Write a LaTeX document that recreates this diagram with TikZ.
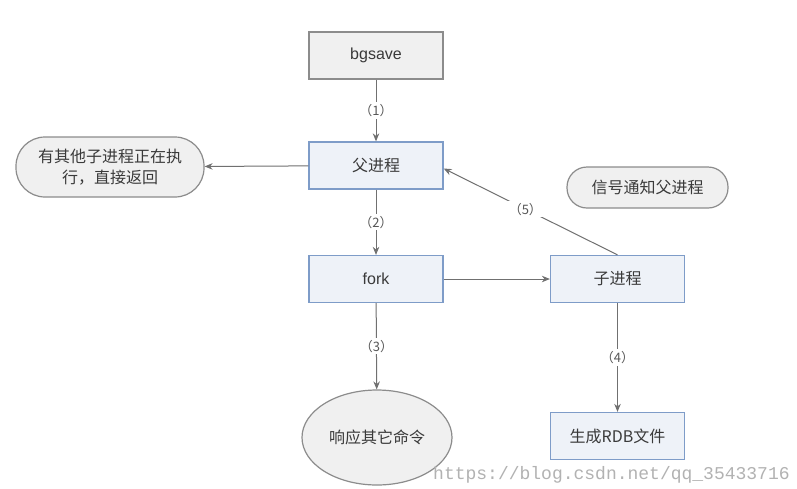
\documentclass[tikz,border=0pt]{standalone}
\usepackage{fontspec}
\setmainfont{Liberation Sans}
\newfontfamily\cjk{Noto Sans CJK SC}
\newfontfamily\wmfont{Liberation Mono}
\usetikzlibrary{arrows.meta,shapes.geometric}
\definecolor{boxblue}{HTML}{7E9CC8}
\definecolor{bluefill}{HTML}{EEF2F8}
\definecolor{graybd}{HTML}{8C8C8C}
\definecolor{grayfill}{HTML}{F0F0F0}
\definecolor{txt}{HTML}{3A3A3A}
\definecolor{arrowc}{HTML}{707070}
\tikzset{
  bluebox/.style={rectangle, draw=boxblue, line width=1.3pt, fill=bluefill,
    minimum width=134pt, minimum height=47pt, inner sep=0pt, text=txt, font=\cjk\fontsize{16}{19}\selectfont},
  graybox/.style={rectangle, draw=graybd, line width=1.3pt, fill=grayfill,
    minimum width=134pt, minimum height=47pt, inner sep=0pt, text=txt, font=\fontsize{16}{19}\selectfont},
  pill/.style={rectangle, draw=graybd, line width=1.2pt, fill=grayfill,
    inner sep=0pt, text=txt, align=center, font=\cjk\fontsize{16}{21}\selectfont},
  oval/.style={ellipse, draw=graybd, line width=1.2pt, fill=grayfill,
    minimum width=150pt, minimum height=95pt, inner sep=0pt, text=txt, font=\cjk\fontsize{16}{19}\selectfont},
  arr/.style={draw=arrowc, line width=1pt, -{Stealth[length=8pt,width=6.5pt]}},
  lbl/.style={fill=white, inner sep=2pt, text=txt!85, font=\cjk\fontsize{13}{15}\selectfont},
}
\begin{document}
\begin{tikzpicture}[x=1pt,y=-1pt]
\useasboundingbox (0,0) rectangle (797,488);
\fill[white] (0,0) rectangle (797,488);

\node[graybox] (bg) at (376,55.5) {bgsave};
\node[bluebox] (fu) at (376,165.5) {父进程};
\node[bluebox] (fork) at (376,279) {\fontspec{Liberation Sans}fork};
\node[bluebox] (zi) at (617.5,279) {子进程};
\node[bluebox] (rdb) at (617.5,436) {生成RDB文件};
\node[oval] (resp) at (377,437.5) {响应其它命令};
\node[pill, minimum width=188pt, minimum height=60pt, rounded corners=29pt] (other) at (110,167) {有其他子进程正在执\\行，直接返回};
\node[pill, minimum width=161pt, minimum height=41pt, rounded corners=20pt] (sig) at (647.5,187.5) {信号通知父进程};

\draw[arr] (bg) -- node[lbl] (l1) {（1）} (fu);
\draw[arr] (fu) -- node[lbl] (l2) {（2）} (fork);
\draw[arr] (fork) -- node[lbl, pos=0.5] (l3) {（3）} (resp);
\draw[arr] (zi) -- node[lbl, pos=0.5] (l4) {（4）} (rdb);
\draw[arr] (fork) -- (zi);
\draw[arr] (fu) -- (other);
\draw[arr] (zi.north) -- node[lbl, pos=0.53] (l5) {（5）} ([yshift=-3pt]fu.east);

\node[anchor=base west, inner sep=0pt, text=black!30, font=\wmfont\fontsize{18}{20}\selectfont] (wm) at (433,479) {https://blog.csdn.net/qq\_35433716};
\end{tikzpicture}
\end{document}
